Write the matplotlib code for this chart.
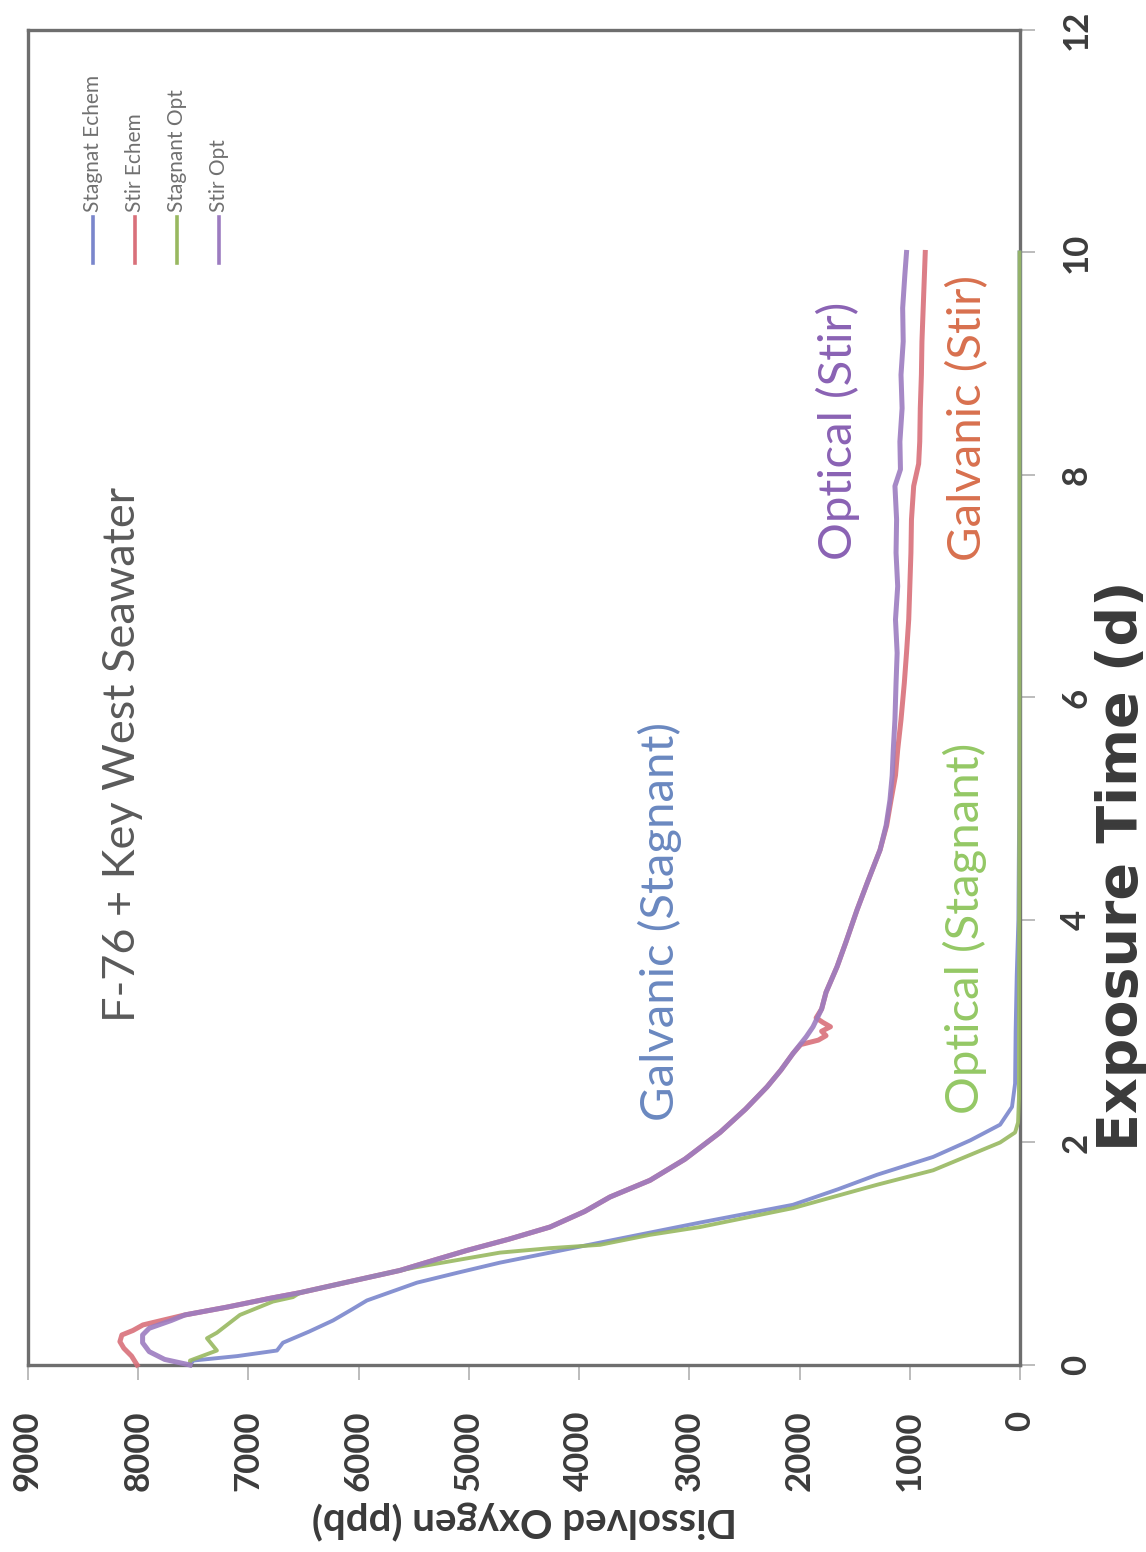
import numpy as np
import matplotlib
matplotlib.use("Agg")
import matplotlib.pyplot as plt
from matplotlib.lines import Line2D

plt.rcParams['font.family'] = ['Lato', 'DejaVu Sans']

# exposure time (d) and dissolved oxygen (ppb) for each probe
stag_echem_t = [0.00, 0.04, 0.08, 0.13, 0.20, 0.30, 0.40, 0.50, 0.58, 0.74, 0.83, 0.92,
                1.01, 1.10, 1.19, 1.28, 1.44, 1.58, 1.71, 1.87, 2.02, 2.16, 2.32, 2.53,
                3.00, 3.50, 4.00, 5.00, 7.00, 10.00]
stag_echem_do = [7530, 7500, 7100, 6741, 6687, 6450, 6233, 6060, 5925, 5471, 5100, 4718,
                 4264, 3811, 3357, 2903, 2060, 1650, 1297, 789, 450, 181, 73, 45,
                 40, 30, 15, 8, 5, 5]

stir_echem_t = [0.00, 0.08, 0.15, 0.21, 0.27, 0.31, 0.36, 0.45, 0.52, 0.60, 0.65, 0.75,
                0.85, 0.95, 1.03, 1.13, 1.24, 1.38, 1.51, 1.66, 1.85, 2.09, 2.30, 2.50,
                2.65, 2.80, 2.88, 2.92, 2.96, 3.00, 3.04, 3.08, 3.12, 3.20, 3.35, 3.58,
                3.80, 4.09, 4.35, 4.63, 4.85, 5.08, 5.30, 5.53, 5.80, 6.13, 6.40, 6.70,
                7.00, 7.30, 7.60, 7.90, 8.10, 8.30, 8.60, 8.90, 9.20, 9.60, 10.00]
stir_echem_do = [8010, 8060, 8130, 8166, 8148, 8048, 7957, 7576, 7195, 6800, 6532, 6080,
                 5625, 5290, 5017, 4640, 4264, 3950, 3720, 3357, 3040, 2722, 2490, 2295,
                 2170, 2060, 1990, 1830, 1760, 1800, 1720, 1790, 1850, 1800, 1760, 1660,
                 1580, 1479, 1380, 1270, 1210, 1170, 1130, 1110, 1080, 1050, 1030, 1010,
                 1000, 990, 985, 965, 920, 910, 905, 895, 890, 875, 860]

stag_opt_t = [0.00, 0.04, 0.13, 0.24, 0.29, 0.45, 0.57, 0.61, 0.65, 0.75, 0.85, 0.88,
              1.01, 1.05, 1.08, 1.17, 1.24, 1.41, 1.62, 1.75, 2.00, 2.09, 2.18, 2.40,
              4.00, 6.00, 10.00]
stag_opt_do = [7530, 7530, 7286, 7376, 7286, 7077, 6778, 6596, 6532, 6080, 5625, 5471,
               4718, 4264, 3811, 3357, 2903, 2060, 1297, 789, 181, 45, 18, 10,
               8, 5, 5]

stir_opt_t = [0.00, 0.05, 0.12, 0.20, 0.27, 0.33, 0.40, 0.45, 0.52, 0.60, 0.65, 0.75,
              0.85, 0.95, 1.03, 1.13, 1.24, 1.38, 1.51, 1.66, 1.85, 2.09, 2.30, 2.50,
              2.65, 2.80, 2.95, 3.04, 3.20, 3.35, 3.58, 3.80, 4.09, 4.35, 4.63, 4.85,
              5.08, 5.30, 5.53, 5.80, 6.13, 6.40, 6.70, 7.00, 7.30, 7.60, 7.90, 8.05,
              8.30, 8.60, 8.90, 9.20, 9.50, 9.80, 10.00]
stir_opt_do = [7530, 7760, 7900, 7960, 7960, 7900, 7700, 7576, 7195, 6800, 6532, 6080,
               5625, 5290, 5017, 4640, 4264, 3950, 3720, 3357, 3040, 2722, 2490, 2295,
               2170, 2060, 1940, 1878, 1800, 1760, 1660, 1580, 1479, 1380, 1270, 1215,
               1180, 1160, 1150, 1135, 1125, 1115, 1130, 1110, 1125, 1120, 1135, 1085,
               1090, 1070, 1080, 1060, 1065, 1045, 1030]

series_names = ['Stagnat Echem', 'Stir Echem', 'Stagnant Opt', 'Stir Opt']
series_colors = ['#7a86cc', '#d9707a', '#98b860', '#9c7cc0']
series_widths = [2.8, 3.6, 2.8, 3.6]

do_ticks = [0, 1000, 2000, 3000, 4000, 5000, 6000, 7000, 8000, 9000]
t_ticks = [0, 2, 4, 6, 8, 10, 12]

fig = plt.figure(figsize=(11.46, 15.52), dpi=100)
ax = fig.add_axes([0.0244, 0.1205, 0.8657, 0.8602])

data = [(stag_echem_do, stag_echem_t), (stir_echem_do, stir_echem_t),
        (stag_opt_do, stag_opt_t), (stir_opt_do, stir_opt_t)]
for (do, t), c, w in zip(data, series_colors, series_widths):
    ax.plot(do, t, color=c, lw=w, alpha=0.9, solid_joinstyle='round',
            zorder=3, clip_on=False)

# chart is drawn turned on its side: time runs up, oxygen runs to the left
ax.set_xlim(9000, 0)
ax.set_ylim(0, 12)
ax.set_xticks(do_ticks)
ax.set_xticklabels([str(v) for v in do_ticks], rotation=90, fontsize=25,
                   fontweight='bold', color='#3c3c3c')
ax.yaxis.tick_right()
ax.set_yticks(t_ticks)
ax.set_yticklabels([str(v) for v in t_ticks], rotation=90, fontsize=25,
                   fontweight='bold', color='#3c3c3c', va='center')
ax.tick_params(axis='x', length=11, width=1.2, color='#b0b0b0', pad=22)
ax.tick_params(axis='y', length=11, width=1.2, color='#b0b0b0', pad=18)
for s in ax.spines.values():
    s.set_color('#6e6e6e')
    s.set_linewidth(2.4)

fig.text(0.458, 0.0206, 'Dissolved Oxygen (ppb)', rotation=180, ha='center',
         va='center', fontsize=29, fontweight='bold', color='#3a3a3a')
fig.text(0.979, 0.442, 'Exposure Time (d)', rotation=90, ha='center',
         va='center', fontsize=40, fontweight='bold',
         family=['DejaVu Sans'], color='#3a3a3a')

ax.text(0.0948, 0.457, 'F-76 + Key West Seawater', transform=ax.transAxes,
        rotation=90, ha='center', va='center', fontsize=32.5, color='#5a5a5a')
ax.text(0.637, 0.332, 'Galvanic (Stagnant)', transform=ax.transAxes,
        rotation=90, ha='center', va='center', fontsize=34, color='#6a88c0')
ax.text(0.9446, 0.327, 'Optical (Stagnant)', transform=ax.transAxes,
        rotation=90, ha='center', va='center', fontsize=34, color='#94c865')
ax.text(0.8165, 0.700, 'Optical (Stir)', transform=ax.transAxes,
        rotation=90, ha='center', va='center', fontsize=34, color='#8a62b4')
ax.text(0.9476, 0.709, 'Galvanic (Stir)', transform=ax.transAxes,
        rotation=90, ha='center', va='center', fontsize=34, color='#d8704e')

# legend with vertical entries
for i, (name, c) in enumerate(zip(series_names, series_colors)):
    lx = 0.0655 + i * 0.0423
    ax.add_line(Line2D([lx, lx], [0.8255, 0.860], transform=ax.transAxes,
                       color=c, lw=2.6))
    ax.text(lx, 0.8637, name, transform=ax.transAxes, rotation=90,
            ha='center', va='bottom', fontsize=15, color='#707070')

fig.savefig('out.png', dpi=100)
